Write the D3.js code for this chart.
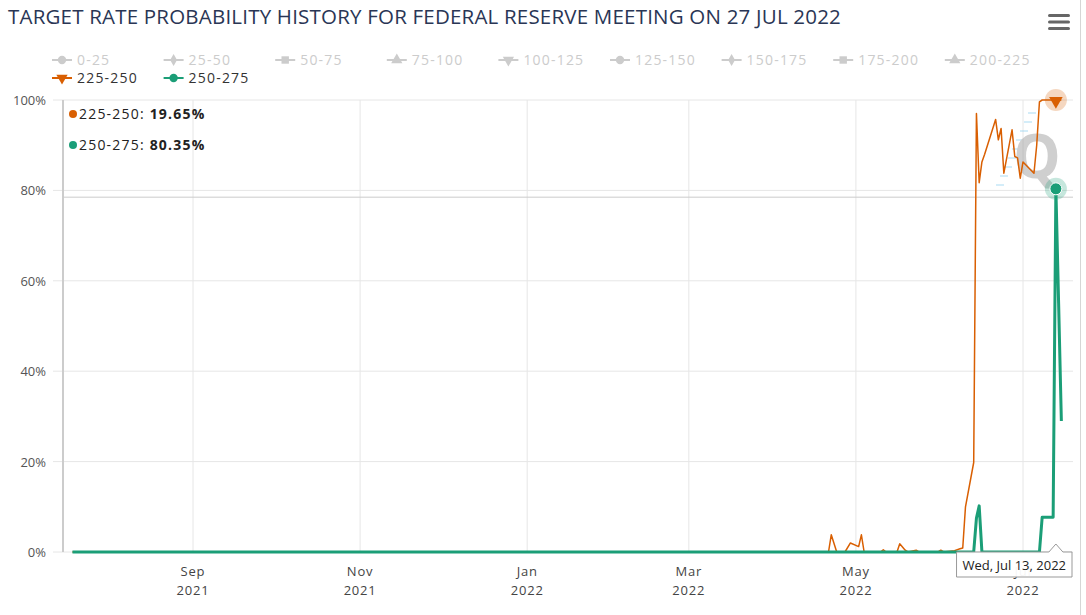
<!DOCTYPE html>
<html lang="en">
<head>
<meta charset="UTF-8">
<title>Target Rate Probability History</title>
<script src="https://d3js.org/d3.v7.min.js"></script>
<style>
  body { margin: 0; background: #fff; overflow: hidden; }
  svg text { font-family: 'Open Sans', sans-serif; }
</style>
</head>
<body>
<div id="chart"></div>
<script>
// ---- data ----
const chartTitle = "TARGET RATE PROBABILITY HISTORY FOR FEDERAL RESERVE MEETING ON 27 JUL 2022";
const rateRanges = ["0-25", "25-50", "50-75", "75-100", "100-125", "125-150", "150-175",
                    "175-200", "200-225", "225-250", "250-275"];
const activeRanges = ["225-250", "250-275"];

const dates = [
  "2021-07-19", "2022-04-21", "2022-04-22", "2022-04-24", "2022-04-27", "2022-04-29",
  "2022-05-02", "2022-05-03", "2022-05-04", "2022-05-10", "2022-05-11", "2022-05-12",
  "2022-05-16", "2022-05-17", "2022-05-19", "2022-05-20", "2022-05-23", "2022-05-24",
  "2022-05-31", "2022-06-01", "2022-06-02", "2022-06-06", "2022-06-08", "2022-06-09",
  "2022-06-10", "2022-06-13", "2022-06-14", "2022-06-15", "2022-06-16", "2022-06-17",
  "2022-06-21", "2022-06-22", "2022-06-23", "2022-06-24", "2022-06-27", "2022-06-28",
  "2022-06-29", "2022-06-30", "2022-07-01", "2022-07-05", "2022-07-06", "2022-07-07",
  "2022-07-08", "2022-07-11", "2022-07-12", "2022-07-13", "2022-07-14", "2022-07-15"
];
// probability (%) of 225-250
const prob225 = [
  0, 0, 3.8, 0, 0, 2.0,
  1.2, 3.8, 0, 0, 0.5, 0,
  0, 1.8, 0.4, 0, 0.4, 0,
  0, 0.4, 0, 0.3, 0.7, 0.9,
  10, 19.8, 89.5, 71.5, 86.3, 88,
  95.7, 91.2, 93.7, 83.8, 93.4, 87.5,
  87.2, 82.7, 86.3, 83.8, 90, 99.6,
  92.3, 92.3, 92.3, 19.65, 45, 71
];
// probability (%) of 250-275
const prob250 = [
  0, 0, 0, 0, 0, 0,
  0, 0, 0, 0, 0, 0,
  0, 0, 0, 0, 0, 0,
  0, 0, 0, 0, 0, 0,
  0, 0, 7.5, 10.2, 0, 0,
  0, 0, 0, 0, 0, 0,
  0, 0, 0, 0, 0, 0,
  7.7, 7.7, 7.7, 80.35, 55, 29
];
const yTicks = [0, 20, 40, 60, 80, 100];
const hoverDate = "2022-07-13";
const crosshairValue = 78.5;

// ---- layout ----
const width = 1086, height = 615;
const margin = {top: 100, right: 13, bottom: 63, left: 63};
const colors = {"225-250": "#d95f02", "250-275": "#1b9e77"};
const markerShapes = [d3.symbolCircle, d3.symbolDiamond, d3.symbolSquare, d3.symbolTriangle, "down"];

const parse = d3.utcParse("%Y-%m-%d");
const rows = dates.map((d, i) => ({date: parse(d), "225-250": prob225[i], "250-275": prob250[i]}));

// 250-275 sits at the bottom of the stack, 225-250 on top of it
const stacked = d3.stack().keys(["250-275", "225-250"])(rows);

const svg = d3.select("#chart").append("svg")
  .attr("width", width).attr("height", height);

const x = d3.scaleUtc()
  .domain([new Date(Date.UTC(2021, 6, 15, 13)), new Date(Date.UTC(2022, 6, 19, 6))])
  .range([margin.left, width - margin.right]);
const y = d3.scaleLinear().domain([0, 100]).range([height - margin.bottom, margin.top]);

// title + menu icon
svg.append("text")
  .attr("x", 8).attr("y", 24)
  .attr("fill", "#2a3655")
  .style("font-size", "20.5px").style("letter-spacing", "0.2px")
  .text(chartTitle);

svg.append("g").selectAll("rect").data([0, 1, 2]).join("rect")
  .attr("x", 1048).attr("y", d => 14 + d * 6.5)
  .attr("width", 22).attr("height", 3).attr("rx", 1.5)
  .attr("fill", "#666");

svg.append("line")
  .attr("x1", 1080.5).attr("x2", 1080.5).attr("y1", 0).attr("y2", height)
  .attr("stroke", "#d6d6d6");

// legend
const legend = svg.append("g");
rateRanges.forEach((r, i) => {
  const tx = 77 + (i % 9) * 111.6;
  const ty = 60 + Math.floor(i / 9) * 18;
  const active = activeRanges.includes(r);
  const c = active ? colors[r] : "#cccccc";
  const g = legend.append("g");
  g.append("line").attr("x1", tx - 25).attr("x2", tx - 5).attr("y1", ty).attr("y2", ty)
    .attr("stroke", c).attr("stroke-width", 2);
  const shape = markerShapes[i % markerShapes.length];
  g.append("path")
    .attr("d", d3.symbol().type(shape === "down" ? d3.symbolTriangle : shape).size(shape === d3.symbolDiamond ? 40 : 55)())
    .attr("transform", `translate(${tx - 15},${ty})` + (shape === "down" ? " rotate(180)" : ""))
    .attr("fill", c);
  g.append("text").attr("x", tx).attr("y", ty + 5)
    .attr("fill", active ? "#333" : "#cccccc")
    .style("font-size", "14px").style("letter-spacing", "1.2px")
    .text(r);
});

// grid
const xTicks = x.ticks(d3.utcMonth.every(2));
svg.append("g").selectAll("line").data(xTicks).join("line")
  .attr("x1", d => x(d)).attr("x2", d => x(d))
  .attr("y1", margin.top).attr("y2", height - margin.bottom)
  .attr("stroke", "#e6e6e6");
svg.append("g").selectAll("line").data(yTicks).join("line")
  .attr("x1", margin.left - 10).attr("x2", width - margin.right)
  .attr("y1", d => y(d)).attr("y2", d => y(d))
  .attr("stroke", "#e6e6e6");
svg.append("line")
  .attr("x1", margin.left).attr("x2", margin.left)
  .attr("y1", margin.top).attr("y2", height - margin.bottom)
  .attr("stroke", "#cccccc").attr("stroke-width", 2);

// axis labels
svg.append("g").selectAll("text").data(yTicks).join("text")
  .attr("x", 46).attr("y", d => y(d) + 5)
  .attr("text-anchor", "end").attr("fill", "#555")
  .style("font-size", "13px")
  .text(d => d + "%");
const xl = svg.append("g").selectAll("text").data(xTicks).join("text")
  .attr("text-anchor", "middle").attr("fill", "#444")
  .style("font-size", "13px").style("letter-spacing", "0.8px");
xl.append("tspan").attr("x", d => x(d)).attr("y", 576).text(d3.utcFormat("%b"));
xl.append("tspan").attr("x", d => x(d)).attr("y", 595).text(d3.utcFormat("%Y"));

// crosshair (horizontal)
svg.append("line")
  .attr("x1", margin.left).attr("x2", width - margin.right)
  .attr("y1", y(crosshairValue)).attr("y2", y(crosshairValue))
  .attr("stroke", "#cccccc");

// watermark
const wm = svg.append("g").attr("opacity", 0.5);
d3.range(9).forEach(k => {
  wm.append("line")
    .attr("x1", 1028 - k * 4).attr("x2", 1036 - k * 4)
    .attr("y1", 113 + k * 9).attr("y2", 113 + k * 9)
    .attr("stroke", "#8fd0f0").attr("stroke-width", 1.5);
});
wm.append("text").attr("x", 1037).attr("y", 178)
  .attr("text-anchor", "middle").attr("fill", "#a0a0a0")
  .style("font-size", "60px").style("font-weight", "bold")
  .text("Q");

// lines
const line = d3.line().x(d => x(d.data.date)).y(d => y(d[1]));
svg.append("path").datum(stacked[1])
  .attr("d", line).attr("fill", "none")
  .attr("stroke", colors["225-250"]).attr("stroke-width", 1.5)
  .attr("stroke-linejoin", "round");
svg.append("path").datum(stacked[0])
  .attr("d", line).attr("fill", "none")
  .attr("stroke", colors["250-275"]).attr("stroke-width", 3)
  .attr("stroke-linejoin", "round");

// hover markers
const hi = dates.indexOf(hoverDate);
const hx = x(parse(hoverDate));
const top225 = y(stacked[1][hi][1]);
const top250 = y(stacked[0][hi][1]);
svg.append("circle").attr("cx", hx).attr("cy", top225).attr("r", 11)
  .attr("fill", colors["225-250"]).attr("opacity", 0.25);
svg.append("path")
  .attr("d", d3.symbol().type(d3.symbolTriangle).size(80)())
  .attr("transform", `translate(${hx},${top225 + 1}) rotate(180)`)
  .attr("fill", colors["225-250"]);
svg.append("circle").attr("cx", hx).attr("cy", top250).attr("r", 11)
  .attr("fill", colors["250-275"]).attr("opacity", 0.25);
svg.append("circle").attr("cx", hx).attr("cy", top250).attr("r", 6)
  .attr("fill", colors["250-275"]).attr("stroke", "#fff").attr("stroke-width", 1);

// tooltip (shared, pinned top-left)
const tip = svg.append("g");
[["225-250", prob225[hi]], ["250-275", prob250[hi]]].forEach(([r, v], k) => {
  const ty = 114 + k * 31;
  tip.append("circle").attr("cx", 73).attr("cy", ty).attr("r", 4).attr("fill", colors[r]);
  const t = tip.append("text").attr("x", 79).attr("y", ty + 5)
    .attr("fill", "#222").style("font-size", "14px").style("letter-spacing", "1.2px");
  t.append("tspan").text(r + ": ");
  t.append("tspan").style("font-weight", "bold").text(v.toFixed(2) + "%");
});

// crosshair date label
const lab = svg.append("g");
const labText = lab.append("text")
  .attr("y", 570).attr("fill", "#222").style("font-size", "13px")
  .text(d3.utcFormat("%a, %b %d, %Y")(parse(hoverDate)));
const tw = labText.node().getComputedTextLength();
const bw = tw + 12, bx = width - margin.right - 1 - bw, by = height - margin.bottom, bh = 25;
lab.insert("path", "text")
  .attr("d", `M${bx},${by} L${hx - 7},${by} L${hx},${by - 8} L${hx + 7},${by} L${bx + bw},${by} L${bx + bw},${by + bh} L${bx},${by + bh} Z`)
  .attr("fill", "rgba(255,255,255,0.95)").attr("stroke", "#999").attr("stroke-width", 1);
labText.attr("x", bx + 6);
</script>
</body>
</html>
